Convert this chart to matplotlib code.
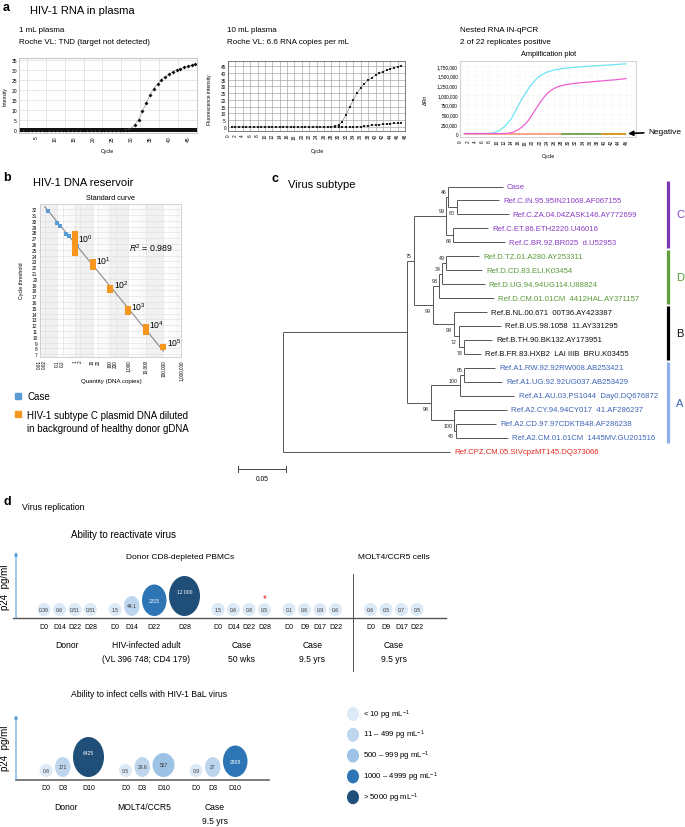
import numpy as np
import matplotlib.pyplot as plt
from matplotlib.patches import Ellipse, Rectangle
from matplotlib.ticker import FuncFormatter

plt.rcParams['font.family'] = ['Liberation Sans', 'DejaVu Sans']
plt.rcParams['mathtext.fontset'] = 'custom'
plt.rcParams['mathtext.rm'] = 'Liberation Sans'
plt.rcParams['mathtext.it'] = 'Liberation Sans:italic'
plt.rcParams['axes.linewidth'] = 0.6

# ---------------- data ----------------
# a: qPCR curves
roche1_cycle = list(range(1, 48))
roche1_sample = [0, 0, 0, 0, 0, 0, 0, 0, 0, 0, 0, 0, 0, 0, 0, 0, 0, 0, 0, 0, 0, 0, 0, 0, 0, 0, 0, 0,
                 0.3, 0.8, 2.8, 5.3, 9.4, 13.5, 17.4, 20.7, 23.0, 25.0, 26.4, 27.7, 29.0, 29.9, 30.5,
                 31.2, 31.7, 32.2, 32.8]
roche1_neg = [0, 0, 0, 0, 0, 0, 0, 0, 0, 0, 0, 0, 0, 0, 0, 0, 0, 0, 0, 0, 0, 0, 0, 0, 0, 0, 0, 0,
              0, 0, 0, 0, 0, 0, 0, 0, 0, 0, 0, 0, 0, 0, 0, 0, 0, 0, 0]

roche10_cycle = list(range(1, 48))
roche10_sample = [0, 0, 0, 0, 0, 0, 0, 0, 0, 0, 0, 0, 0, 0, 0, 0, 0, 0, 0, 0, 0, 0, 0, 0, 0, 0, 0, 0,
                  0.5, 1.5, 4.0, 9.0, 14.5, 20.0, 25.0, 29.0, 32.0, 34.5, 36.5, 38.2, 39.6, 40.8, 41.9,
                  42.9, 43.8, 44.6, 45.2]
roche10_ctrl = [0, 0, 0, 0, 0, 0, 0, 0, 0, 0, 0, 0, 0, 0, 0, 0, 0, 0, 0, 0, 0, 0, 0, 0, 0, 0, 0, 0,
                0, 0, 0, 0, 0, 0, 0.1, 0.3, 0.6, 0.9, 1.2, 1.5, 1.8, 2.0, 2.2, 2.4, 2.6, 2.7, 2.8]

nested_cycle = list(range(1, 47))
nested_rep1 = [0, 0, 0, 0, 0, 0, 0, 3000, 15000, 45000, 95000, 160000, 260000, 370000, 540000,
               720000, 890000, 1040000, 1180000, 1310000, 1410000, 1490000, 1545000, 1590000,
               1620000, 1645000, 1665000, 1680000, 1692000, 1702000, 1710000, 1718000, 1726000,
               1733000, 1740000, 1746000, 1752000, 1758000, 1764000, 1770000, 1776000, 1782000,
               1788000, 1794000, 1800000, 1806000]
nested_rep2 = [0, 0, 0, 0, 0, 0, 0, 0, 0, 0, 0, 0, 5000, 20000, 50000, 100000, 165000, 250000,
               360000, 500000, 650000, 790000, 920000, 1030000, 1110000, 1170000, 1210000, 1240000,
               1260000, 1278000, 1292000, 1303000, 1313000, 1322000, 1330000, 1338000, 1346000,
               1354000, 1362000, 1370000, 1378000, 1386000, 1394000, 1402000, 1412000, 1428000]
neg_cycles = [list(range(1, 47)), list(range(28, 40)), list(range(39, 47))]
neg_colors = ['#f4a07c', '#6aa84f', '#d9981e']

# b: standard curve
case_qty = [0.03, 0.095, 0.15, 0.32, 0.46, 1.4]
case_ct = [31.65, 29.7, 29.1, 27.8, 27.3, 25.6]
plasmid_qty = [1, 1, 1, 1, 1, 1, 10, 10, 10, 100, 100, 1000, 1000, 1e4, 1e4, 1e4, 1e5]
plasmid_ct = [27.7, 27.2, 26.7, 25.9, 25.4, 24.5, 22.9, 22.5, 22.0, 18.4, 18.0, 14.7, 14.3,
              11.7, 11.3, 10.9, 8.3]
r_squared = 0.989

# c: phylogenetic tree
leaf_names = ['Case', 'Ref.C.IN.95.95IN21068.AF067155', 'Ref.C.ZA.04.04ZASK146.AY772699',
              'Ref.C.ET.86.ETH2220.U46016', 'Ref.C.BR.92.BR025  d.U52953',
              'Ref.D.TZ.01.A280.AY253311', 'Ref.D.CD.83.ELI.K03454', 'Ref.D.UG.94.94UG114.U88824',
              'Ref.D.CM.01.01CM  4412HAL.AY371157', 'Ref.B.NL.00.671  00T36.AY423387',
              'Ref.B.US.98.1058  11.AY331295', 'Ref.B.TH.90.BK132.AY173951',
              'Ref.B.FR.83.HXB2  LAI IIIB  BRU.K03455', 'Ref.A1.RW.92.92RW008.AB253421',
              'Ref.A1.UG.92.92UG037.AB253429', 'Ref.A1.AU.03.PS1044  Day0.DQ676872',
              'Ref.A2.CY.94.94CY017  41.AF286237', 'Ref.A2.CD.97.97CDKTB48.AF286238',
              'Ref.A2.CM.01.01CM  1445MV.GU201516', 'Ref.CPZ.CM.05.SIVcpzMT145.DQ373066']
leaf_depth = [0.229, 0.225, 0.235, 0.2135, 0.231, 0.204, 0.207, 0.210, 0.220, 0.2125, 0.227,
              0.218, 0.206, 0.221, 0.228, 0.241, 0.233, 0.222, 0.234, 0.174]
leaf_clade = ['C', 'C', 'C', 'C', 'C', 'D', 'D', 'D', 'D', 'B', 'B', 'B', 'B',
              'A', 'A', 'A', 'A', 'A', 'A', 'CPZ']
# internal node: (depth, children, bootstrap)
tree_nodes = {
    'c80': (0.181, [1, 2], 80),
    'c46': (0.172, [0, 'c80'], 46),
    'c68': (0.177, [3, 4], 68),
    'c99': (0.170, ['c46', 'c68'], 99),
    'd49': (0.170, [5, 6], 49),
    'd34': (0.166, ['d49', 7], 34),
    'd93': (0.1625, ['d34', 8], 93),
    'b78': (0.189, [11, 12], 78),
    'b72': (0.183, [10, 'b78'], 72),
    'b99': (0.178, [9, 'b72'], 99),
    'db99': (0.156, ['d93', 'b99'], 99),
    'n75': (0.136, ['c99', 'db99'], 75),
    'a65': (0.189, [13, 14], 65),
    'a1': (0.184, ['a65', 15], 100),
    'a48': (0.180, [17, 18], 48),
    'a2': (0.178, [16, 'a48'], 100),
    'a98': (0.154, ['a1', 'a2'], 98),
    'inner': (0.129, ['n75', 'a98'], None),
    'root': (0.0, ['inner', 19], None),
}
clades = ['C', 'D', 'B', 'A']
scale_bar = 0.05

# d: p24 bubbles
react_groups = ['Donor', 'HIV-infected adult\n(VL 396 748; CD4 179)', 'Case\n50 wks',
                'Case\n9.5 yrs', 'Case\n9.5 yrs']
react_days = [['D0', 'D14', 'D22', 'D28'], ['D0', 'D14', 'D22', 'D28'],
              ['D0', 'D14', 'D22', 'D28'], ['D0', 'D9', 'D17', 'D22'],
              ['D0', 'D9', 'D17', 'D22']]
react_p24 = [[0.39, 0.6, 0.51, 0.51], [1.5, 44.1, 2315, 12000], [1.5, 0.6, 0.8, 0.5],
             [0.1, 0.6, 0.9, 0.6], [0.6, 0.5, 0.7, 0.5]]
react_star = (2, 3)
react_cells = ['Donor CD8-depleted PBMCs', 'MOLT4/CCR5 cells']
infect_groups = ['Donor', 'MOLT4/CCR5', 'Case\n9.5 yrs']
infect_days = ['D0', 'D3', 'D10']
infect_p24 = [[0.6, 171, 6425], [0.5, 28.6, 527], [0.9, 27, 2908]]
p24_bins = [10, 500, 1000, 5000]
p24_labels = [r'< 10 pg mL$^{-1}$', r'11 – 499 pg mL$^{-1}$', r'500 – 999 pg mL$^{-1}$',
              r'1000 – 4999 pg mL$^{-1}$', r'> 5000 pg mL$^{-1}$']

# ---------------- styles / layout ----------------
W, H = 685, 828
bubble_colors = ['#dce9f6', '#bdd6ee', '#9cc2e5', '#2e75b6', '#1f4e79']
bubble_sizes = [(13, 13), (15.5, 20), (22, 24), (24.5, 31.5), (31, 40)]
clade_text = {'C': '#8a3cc2', 'D': '#5a9a3a', 'B': '#111111', 'A': '#3d64b5', 'CPZ': '#e3281c'}
clade_bar = {'C': '#7b35b5', 'D': '#5f9e3c', 'B': '#000000', 'A': '#8fb0e6'}

fig = plt.figure(figsize=(W / 100, H / 100), dpi=100)


def px_rect(l, t, r, b):
    return [l / W, 1 - b / H, (r - l) / W, (b - t) / H]


def ftext(x, y, s, **kw):
    kw.setdefault('va', 'center')
    fig.text(x / W, 1 - y / H, s, **kw)


# ---------------- panel a ----------------
ftext(3, 8, 'a', fontsize=9, fontweight='bold')
ftext(30, 11, 'HIV-1 RNA in plasma', fontsize=8)
ftext(19, 31, '1 mL plasma', fontsize=5.8)
ftext(19, 42, 'Roche VL: TND (target not detected)', fontsize=5.8)
ftext(227, 31, '10 mL plasma', fontsize=5.8)
ftext(227, 42, 'Roche VL: 6.6 RNA copies per mL', fontsize=5.8)
ftext(460, 31, 'Nested RNA IN-qPCR', fontsize=5.8)
ftext(460, 42, '2 of 22 replicates positive', fontsize=5.8)

ax1 = fig.add_axes(px_rect(19, 59, 197, 134))
ax1.plot(roche1_cycle, roche1_neg, 's', color='#111111', ms=2.4, mew=0)
ax1.plot(roche1_cycle, roche1_sample, '-', color='#999999', lw=0.5)
ax1.plot(roche1_cycle, roche1_sample, 'D', color='#111111', ms=2.0, mew=0)
ax1.set_xlim(0.5, 47.4)
ax1.set_ylim(-1.3, 35.8)
ax1.set_xticks(range(5, 46, 5))
ax1.set_xticks(np.arange(2.5, 47, 5), minor=True)
ax1.set_yticks(range(0, 36, 5))
ax1.grid(axis='x', which='minor', color='#d5d5d5', lw=0.4)
ax1.grid(axis='y', which='major', color='#d5d5d5', lw=0.4)
ax1.tick_params(labelsize=3.6, length=0, pad=1.5, which='both')
ax1.tick_params(axis='x', labelrotation=90)
for s in ax1.spines.values():
    s.set_color('#bbbbbb')
ftext(5, 97, 'Intensity', fontsize=3.6, rotation=90, ha='center')
ftext(107, 152, 'Cycle', fontsize=3.8, ha='center')

ax2 = fig.add_axes(px_rect(228, 62, 405, 132))
ax2.plot(roche10_cycle, roche10_ctrl, '-', color='#888888', lw=0.5)
ax2.plot(roche10_cycle, roche10_ctrl, 's', color='#222222', ms=1.6, mew=0)
ax2.plot(roche10_cycle, roche10_sample, '-', color='#888888', lw=0.5)
ax2.plot(roche10_cycle, roche10_sample, 's', color='#222222', ms=1.6, mew=0)
ax2.set_xlim(0, 48)
ax2.set_ylim(-3, 48.7)
ax2.set_xticks(range(0, 49, 2))
ax2.set_yticks(range(0, 46, 5))
ax2.grid(color='#a0a0a0', lw=0.45)
ax2.tick_params(labelsize=3.4, length=0, pad=1.5)
ax2.tick_params(axis='x', labelrotation=90)
for s in ax2.spines.values():
    s.set_color('#666666')
ftext(209, 100, 'Fluorescence intensity', fontsize=3.6, rotation=90, ha='center')
ftext(317, 152, 'Cycle', fontsize=3.8, ha='center')

ax3 = fig.add_axes(px_rect(460, 62, 636, 138))
for cyc, col in zip(neg_cycles, neg_colors):
    ax3.plot(cyc, np.zeros(len(cyc)), color=col, lw=1.3, solid_capstyle='butt')
ax3.plot(nested_cycle, nested_rep1, color='#6fe3f2', lw=0.9)
ax3.plot(nested_cycle, nested_rep2, color='#ef5fd0', lw=0.9)
ax3.set_xlim(-0.2, 48.8)
ax3.set_ylim(-90000, 1.88e6)
ax3.set_xticks(range(0, 47, 2))
ax3.set_yticks(range(0, 1750001, 250000))
ax3.yaxis.set_major_formatter(FuncFormatter(lambda v, p: f'{int(v):,}'))
ax3.grid(color='#e6e6e6', lw=0.4, ls=':')
ax3.tick_params(labelsize=3.4, length=0, pad=1.5)
ax3.tick_params(axis='x', labelrotation=90)
for s in ax3.spines.values():
    s.set_color('#cccccc')
ftext(549, 55, 'Amplification plot', fontsize=5.3, ha='center')
ftext(425, 100, 'ΔRn', fontsize=3.8, rotation=90, ha='center')
ftext(548, 157, 'Cycle', fontsize=3.8, ha='center')
ax3.annotate('Negative', xy=(46.6, 0), xytext=(648 / W, 1 - 133 / H),
             textcoords='figure fraction', fontsize=6.0, va='center', ha='left',
             arrowprops=dict(arrowstyle='-|>', color='black', lw=1.2, mutation_scale=7,
                             shrinkA=1, shrinkB=0),
             annotation_clip=False)

# ---------------- panel b ----------------
ftext(3, 178, 'b', fontsize=9, fontweight='bold')
ftext(33, 183, 'HIV-1 DNA reservoir', fontsize=8)
ftext(110, 199, 'Standard curve', fontsize=5.2, ha='center')

bx = fig.add_axes(px_rect(39.5, 205, 181, 358))
bx.set_xscale('log')
bx.set_xlim(0.01, 1e6)
bx.set_ylim(6.5, 32.9)
for k in [-2, 0, 2, 4]:
    bx.axvspan(10.0 ** k, 10.0 ** (k + 1), color='#f2f2f2', lw=0, zorder=0)
bx.grid(which='major', color='#dddddd', lw=0.4)
bx.grid(which='minor', axis='x', color='#eeeeee', lw=0.3)
fit = np.polyfit(np.log10(plasmid_qty), plasmid_ct, 1)
line_q = np.array([0.02, 1e5])
bx.plot(line_q, np.polyval(fit, np.log10(line_q)), color='#8a8a8a', lw=0.8, zorder=2)
bx.plot(case_qty, case_ct, 's', color='#5b9bd5', ms=3.4, mew=0, zorder=3)
bx.plot(plasmid_qty, plasmid_ct, 's', color='#f7961e', ms=3.8, mew=0, zorder=3)
pq = np.array(plasmid_qty)
pc = np.array(plasmid_ct)
for q in sorted(set(plasmid_qty)):
    k = int(round(np.log10(q)))
    bx.text(q * 10 ** 0.2, pc[pq == q].mean() + 0.8, '$10^{%d}$' % k, fontsize=6.2,
            va='center', ha='left', zorder=4)
bx.text(1100, 25.4, '$R^2$ = %.3f' % r_squared, fontsize=6.3, va='center', ha='left')
xt = [0.01, 0.02, 0.1, 0.2, 1, 2, 10, 20, 100, 200, 1000, 1e4, 1e5, 1e6]
bx.set_xticks(xt)
bx.set_xticklabels([f'{v:,.0f}' if v >= 1 else f'{v:g}' for v in xt])
bx.set_yticks(range(7, 33))
bx.tick_params(labelsize=3.4, length=0, pad=1.5, which='both')
bx.tick_params(axis='x', labelrotation=90)
for s in bx.spines.values():
    s.set_color('#cccccc')
ftext(22, 281, 'Cycle threshold', fontsize=3.8, rotation=90, ha='center')
ftext(111, 382, 'Quantity (DNA copies)', fontsize=4.4, ha='center')
fig.add_artist(Rectangle(((15) / W, 1 - 400 / H), 6 / W, 6 / H, color='#5b9bd5',
                         transform=fig.transFigure))
ftext(27, 397, 'Case', fontsize=7)
fig.add_artist(Rectangle(((15) / W, 1 - 418 / H), 6 / W, 6 / H, color='#f7961e',
                         transform=fig.transFigure))
ftext(27, 416, 'HIV-1 subtype C plasmid DNA diluted', fontsize=7)
ftext(27, 429, 'in background of healthy donor gDNA', fontsize=7)

# ---------------- panel c ----------------
ftext(272, 179, 'c', fontsize=9, fontweight='bold')
ftext(288, 185, 'Virus subtype', fontsize=8)

ROOT_PX, PX_PER_UNIT, LEAF_Y0, LEAF_DY = 283, 960, 187.5, 13.95
tx = fig.add_axes(px_rect(230, 150, 685, 500))
tx.set_xlim((230 - ROOT_PX) / PX_PER_UNIT, (685 - ROOT_PX) / PX_PER_UNIT)
tx.set_ylim((500 - LEAF_Y0) / LEAF_DY, (150 - LEAF_Y0) / LEAF_DY)
tx.axis('off')


def node_y(n):
    if isinstance(n, int):
        return float(n)
    ch = tree_nodes[n][1]
    return (node_y(ch[0]) + node_y(ch[-1])) / 2


def node_x(n):
    return leaf_depth[n] if isinstance(n, int) else tree_nodes[n][0]


label_below = {'c80', 'c68', 'db99', 'b99', 'b72', 'b78', 'a98', 'a2', 'a48'}
for name, (d, ch, bs) in tree_nodes.items():
    ys = [node_y(c) for c in ch]
    tx.plot([d, d], [min(ys), max(ys)], color='#555555', lw=0.7, solid_capstyle='butt')
    for c, yc in zip(ch, ys):
        tx.plot([d, node_x(c)], [yc, yc], color='#555555', lw=0.7, solid_capstyle='butt')
    if bs is not None:
        dy = -3.8 if name in label_below else 3.8
        tx.annotate(str(bs), (d, node_y(name)), xytext=(-1.2, dy), textcoords='offset points',
                    fontsize=3.8, ha='right', va='center', color='#222222')

for i, (nm, dep, cl) in enumerate(zip(leaf_names, leaf_depth, leaf_clade)):
    tx.annotate(nm, (dep, i), xytext=(3, 0), textcoords='offset points', fontsize=5.6,
                ha='left', va='center', color=clade_text[cl])

bar_x = (668 - ROOT_PX) / PX_PER_UNIT
for cl in clades:
    idx = [i for i, c in enumerate(leaf_clade) if c == cl]
    tx.plot([bar_x, bar_x], [min(idx) - 0.42, max(idx) + 0.42], color=clade_bar[cl], lw=2.3,
            solid_capstyle='butt')
    tx.text(bar_x + 8 / PX_PER_UNIT, (min(idx) + max(idx)) / 2, cl, fontsize=8,
            color=clade_text[cl], va='center', ha='left')

sb_y = (470 - LEAF_Y0) / LEAF_DY
sb_x0 = (238 - ROOT_PX) / PX_PER_UNIT
tx.plot([sb_x0, sb_x0 + scale_bar], [sb_y, sb_y], color='#444444', lw=0.7)
for xx in (sb_x0, sb_x0 + scale_bar):
    tx.plot([xx, xx], [sb_y - 0.2, sb_y + 0.2], color='#444444', lw=0.7)
tx.annotate(f'{scale_bar:.2f}', (sb_x0 + scale_bar / 2, sb_y), xytext=(0, -7),
            textcoords='offset points', fontsize=4.8, ha='center', va='center')

# ---------------- panel d ----------------
ftext(3, 502, 'd', fontsize=9, fontweight='bold')
ftext(22, 507, 'Virus replication', fontsize=6.3)

dx = fig.add_axes(px_rect(0, 490, 685, 828))
dx.set_xlim(0, 685)
dx.set_ylim(828, 490)
dx.axis('off')


def p24_cat(v):
    return int(np.searchsorted(p24_bins, v, side='right'))


def bubble_x(groups, x0, gap, extra_before=None, extra=0):
    xs, x, prev_w = [], x0, None
    for gi, vals in enumerate(groups):
        gx = []
        for v in vals:
            w = bubble_sizes[p24_cat(v)][0]
            if prev_w is not None:
                if gx:
                    x += max(15.3, (prev_w + w) / 2 + 2.5)
                else:
                    x += (prev_w + w) / 2 + gap + (extra if gi == extra_before else 0)
            gx.append(x)
            prev_w = w
        xs.append(gx)
    return xs


def fmt_p24(v):
    return f'{v:,.0f}'.replace(',', ' ') if v >= 10000 else f'{v:g}'


def draw_bubbles(groups, days, names, xs, base, day_y, name_y):
    for vals, dl, nm, gx in zip(groups, days, names, xs):
        for v, d, x in zip(vals, dl, gx):
            c = p24_cat(v)
            w, h = bubble_sizes[c]
            dx.add_patch(Ellipse((x, base - h / 2), w, h, facecolor=bubble_colors[c], lw=0))
            dx.text(x, base - h / 2 - (4 if c == 4 else 0), fmt_p24(v), fontsize=3.6,
                    ha='center', va='center', color='white' if c >= 3 else '#333333')
            dx.text(x, day_y, d, fontsize=5, ha='center', va='center')
        for j, line in enumerate(nm.split('\n')):
            dx.text(np.mean(gx), name_y + 14 * j, line, fontsize=6.2, ha='center', va='center')


# reactivation
dx.text(71, 535, 'Ability to reactivate virus', fontsize=7, va='center')
rx = bubble_x(react_p24, 44, 11.5, extra_before=4, extra=10.5)
draw_bubbles(react_p24, react_days, react_groups, rx, 617, 628, 646)
dx.text(180, 558, react_cells[0], fontsize=6, ha='center', va='center')
dx.text(np.mean(rx[4]), 558, react_cells[1], fontsize=6, ha='center', va='center')
div_x = (rx[3][-1] + rx[4][0]) / 2
dx.plot([div_x, div_x], [575, 672], color='#333333', lw=0.6)
dx.plot([13, 446], [619, 619], color='#555555', lw=1.0)
sg, si = react_star
dx.text(rx[sg][si], 599, '*', color='#e02020', fontsize=7, ha='center', va='center')
dx.annotate('', xy=(16, 553), xytext=(16, 619),
            arrowprops=dict(arrowstyle='-|>', color='#5b9bd5', lw=0.8, mutation_scale=5,
                            shrinkA=0, shrinkB=0))
dx.text(5, 587, 'p24  pg/ml', fontsize=7, rotation=90, ha='center', va='center')

# infection
dx.text(71, 695, 'Ability to infect cells with HIV-1 BaL virus', fontsize=6.2, va='center')
ix = bubble_x(infect_p24, 46, 15)
draw_bubbles(infect_p24, [infect_days] * 3, infect_groups, ix, 778, 789, 808)
dx.plot([16, 269], [781, 781], color='#666666', lw=1.2)
dx.annotate('', xy=(16, 716), xytext=(16, 781),
            arrowprops=dict(arrowstyle='-|>', color='#5b9bd5', lw=0.8, mutation_scale=5,
                            shrinkA=0, shrinkB=0))
dx.text(5, 748, 'p24  pg/ml', fontsize=7, rotation=90, ha='center', va='center')

# legend
for k, lab in enumerate(p24_labels):
    y = 715 + 20.8 * k
    dx.add_patch(Ellipse((353, y), 12, 14, facecolor=bubble_colors[k], lw=0))
    dx.text(363, y, lab, fontsize=5.6, va='center', ha='left')

fig.savefig('out.png', dpi=100)
